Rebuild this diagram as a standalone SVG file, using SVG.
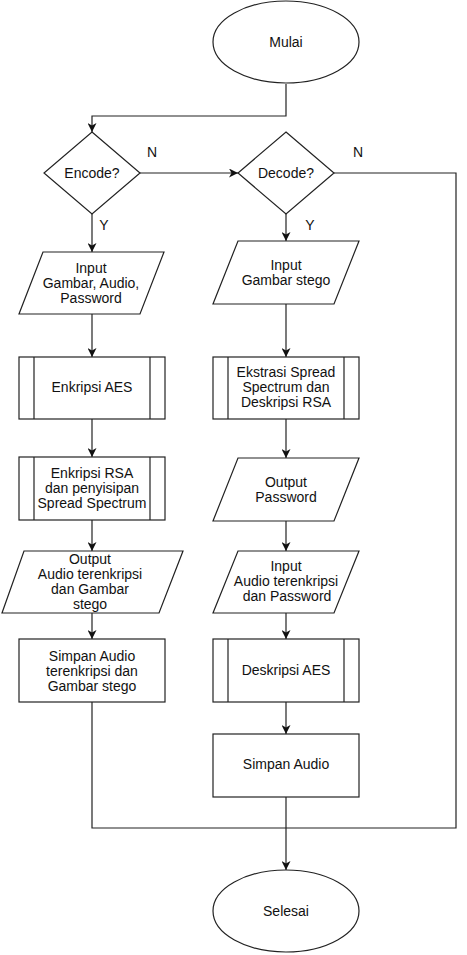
<svg xmlns="http://www.w3.org/2000/svg" width="467" height="955" viewBox="0 0 467 955">
<defs>
<marker id="arr" markerWidth="9" markerHeight="9" refX="9" refY="4.5" orient="auto" markerUnits="userSpaceOnUse">
<path d="M0,0 L9,4.5 L0,9 L2.5,4.5 z" fill="#111"/>
</marker>
<style>
.s{fill:#fff;stroke:#222;stroke-width:1.2}
.c{fill:none;stroke:#222;stroke-width:1.2}
.a{fill:none;stroke:#222;stroke-width:1.2;marker-end:url(#arr)}
text{font-family:"Liberation Sans",Arial,sans-serif;font-size:14px;fill:#111;text-anchor:middle}
</style>
</defs>
<rect width="467" height="955" fill="#fff"/>
<g id="connectors">
<path class="a" d="M286,84 V116 H92 V132"/>
<path class="a" d="M140,173 H238"/>
<path class="c" d="M334,173 H456 V828 H286"/>
<path class="c" d="M92,702 V828 H286"/>
<path class="a" d="M92,214 V252"/>
<path class="a" d="M92,314 V357"/>
<path class="a" d="M92,419 V457"/>
<path class="a" d="M92,520 V551"/>
<path class="a" d="M92,613 V639"/>
<path class="a" d="M286,214 V241"/>
<path class="a" d="M286,304 V357"/>
<path class="a" d="M286,419 V458"/>
<path class="a" d="M286,521 V551"/>
<path class="a" d="M286,613 V639"/>
<path class="a" d="M286,702 V734"/>
<path class="a" d="M286,797 V870"/>
<text x="152" y="157">N</text>
<text x="358" y="157">N</text>
<text x="104" y="230">Y</text>
<text x="310" y="230">Y</text>
</g>
<g id="mulai">
<ellipse class="s" cx="286" cy="42" rx="73" ry="41"/>
<text x="286" y="47">Mulai</text>
</g>
<g id="encode">
<polygon class="s" points="92,132 140,173 92,214 44,173"/>
<text x="92" y="178">Encode?</text>
</g>
<g id="decode">
<polygon class="s" points="286,132 334,173 286,214 238,173"/>
<text x="286" y="178">Decode?</text>
</g>
<g id="input1">
<polygon class="s" points="43,252 164,252 140,314 19,314"/>
<text x="91" y="273">Input</text>
<text x="91" y="288">Gambar, Audio,</text>
<text x="91" y="303">Password</text>
</g>
<g id="enkripsi-aes">
<rect class="s" x="19" y="357" width="146" height="62"/>
<path class="c" d="M34,357 V419 M150,357 V419"/>
<text x="92" y="392">Enkripsi AES</text>
</g>
<g id="enkripsi-rsa">
<rect class="s" x="19" y="457" width="146" height="63"/>
<path class="c" d="M34,457 V520 M150,457 V520"/>
<text x="92" y="478">Enkripsi RSA</text>
<text x="92" y="493">dan penyisipan</text>
<text x="92" y="508">Spread Spectrum</text>
</g>
<g id="output1">
<polygon class="s" points="24,551 183,551 159,613 2,613"/>
<text x="90" y="564">Output</text>
<text x="90" y="579">Audio terenkripsi</text>
<text x="90" y="594">dan Gambar</text>
<text x="90" y="609">stego</text>
</g>
<g id="simpan1">
<rect class="s" x="19" y="639" width="146" height="63"/>
<text x="92" y="661">Simpan Audio</text>
<text x="92" y="676">terenkripsi dan</text>
<text x="92" y="691">Gambar stego</text>
</g>
<g id="input2">
<polygon class="s" points="238,241 359,241 334,304 213,304"/>
<text x="286" y="270">Input</text>
<text x="286" y="285">Gambar stego</text>
</g>
<g id="ekstrasi">
<rect class="s" x="213" y="357" width="146" height="62"/>
<path class="c" d="M228,357 V419 M344,357 V419"/>
<text x="286" y="377">Ekstrasi Spread</text>
<text x="286" y="392">Spectrum dan</text>
<text x="286" y="407">Deskripsi RSA</text>
</g>
<g id="output2">
<polygon class="s" points="238,458 359,458 334,521 213,521"/>
<text x="286" y="487">Output</text>
<text x="286" y="502">Password</text>
</g>
<g id="input3">
<polygon class="s" points="238,551 359,551 334,613 213,613"/>
<text x="286" y="571">Input</text>
<text x="286" y="586">Audio terenkripsi</text>
<text x="287" y="601">dan Password</text>
</g>
<g id="deskripsi-aes">
<rect class="s" x="213" y="639" width="146" height="63"/>
<path class="c" d="M228,639 V702 M344,639 V702"/>
<text x="286" y="675">Deskripsi AES</text>
</g>
<g id="simpan2">
<rect class="s" x="213" y="734" width="146" height="63"/>
<text x="286" y="769">Simpan Audio</text>
</g>
<g id="selesai">
<ellipse class="s" cx="286" cy="911" rx="73" ry="41"/>
<text x="286" y="916">Selesai</text>
</g>
</svg>
